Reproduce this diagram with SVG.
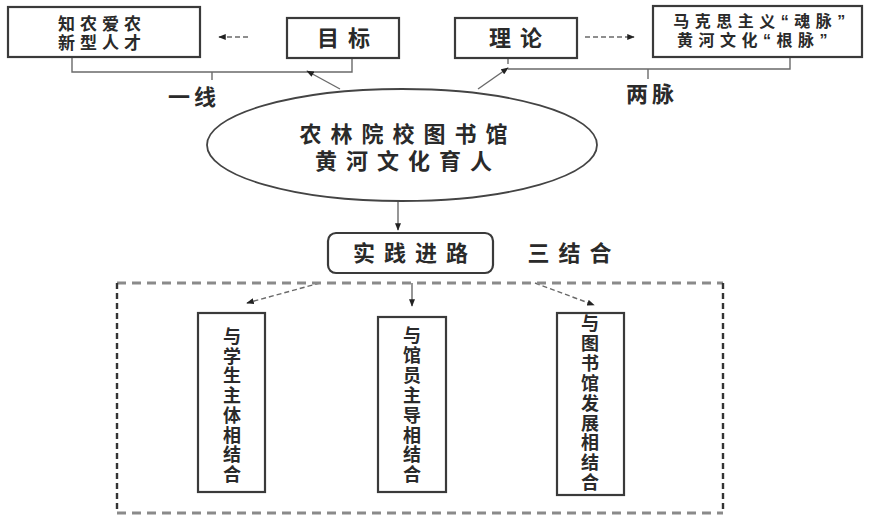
<svg xmlns="http://www.w3.org/2000/svg" width="870" height="516" viewBox="0 0 870 516">
<style>
.bx{fill:#fff;stroke:#3a3a3a;stroke-width:2.2}
.el{fill:#fff;stroke:#444;stroke-width:1.8}
.t{font-family:"Liberation Sans","Noto Sans CJK SC",sans-serif;font-weight:bold;fill:#2a2a2a;text-anchor:middle;dominant-baseline:central}
.big{font-size:22px;letter-spacing:9px}
.sm{font-size:17px;letter-spacing:5px}
.sm2{font-size:16px;letter-spacing:5.5px}
.v{font-size:18px}
.ln{fill:none;stroke:#6a6a6a;stroke-width:1.4}
.dl{fill:none;stroke:#6a6a6a;stroke-width:1.4;stroke-dasharray:5 3}
</style>
<defs>
<marker id="ah" viewBox="0 0 10 8" refX="9" refY="4" markerWidth="8" markerHeight="6" markerUnits="userSpaceOnUse" orient="auto">
<path d="M0,0 L10,4 L0,8 Z" fill="#222"/>
</marker>
</defs>

<g id="connectors">
<path class="ln" d="M72,57 V72 H352 V58"/>
<path class="ln" d="M212,72 V80"/>
<path class="ln" d="M340,89 L307,71" marker-end="url(#ah)"/>
<path class="dl" d="M248,37 H219" marker-end="url(#ah)"/>
<path class="ln" d="M508,69 H790 V57"/>
<path class="ln" d="M648,69 V79"/>
<path class="ln" d="M508,58 V64"/>
<path class="ln" d="M478,89 L508,68" marker-end="url(#ah)"/>
<path class="dl" d="M585,37 H634" marker-end="url(#ah)"/>
<path class="ln" d="M398,201 V230" marker-end="url(#ah)"/>
<path class="dl" d="M320,283 L247,303" marker-end="url(#ah)"/>
<path class="ln" d="M412,283 V306" marker-end="url(#ah)"/>
<path class="dl" d="M535,283 L594,305" marker-end="url(#ah)"/>
</g>

<g id="node-talent">
<rect class="bx" x="8" y="7" width="192" height="50"/>
<text class="t sm" x="102" y="24">知农爱农</text>
<text class="t sm" x="102" y="43">新型人才</text>
</g>

<g id="node-goal">
<rect class="bx" x="287" y="18" width="112" height="40"/>
<text class="t big" x="348" y="38">目标</text>
</g>

<g id="node-theory">
<rect class="bx" x="455" y="18" width="122" height="40"/>
<text class="t big" x="520" y="38">理论</text>
</g>

<g id="node-veins">
<rect class="bx" x="653" y="6" width="209" height="51"/>
<text class="t sm2" x="762" y="21">马克思主义“魂脉”</text>
<text class="t sm2" x="755" y="40">黄河文化“根脉”</text>
</g>

<g id="label-yixian">
<text class="t big" x="194" y="97" style="letter-spacing:4px">一线</text>
</g>

<g id="label-liangmai">
<text class="t big" x="652" y="94" style="letter-spacing:4px">两脉</text>
</g>

<g id="node-center">
<ellipse class="el" cx="402" cy="145" rx="195" ry="56"/>
<text class="t big" x="408" y="134">农林院校图书馆</text>
<text class="t big" x="408" y="161">黄河文化育人</text>
</g>

<g id="node-path">
<rect class="bx" x="328" y="233" width="165" height="40" rx="8"/>
<text class="t big" x="415" y="253">实践进路</text>
</g>

<g id="label-sanjiehe">
<text class="t big" x="574" y="253">三结合</text>
</g>

<g id="group-box">
<path d="M117,283 H723 M117,513 H723" fill="none" stroke="#8a8a8a" stroke-width="3" stroke-dasharray="9 6"/>
<path d="M117,283 V513 M723,283 V513" fill="none" stroke="#333" stroke-width="2.4" stroke-dasharray="6 4"/>
</g>

<g id="node-students">
<rect class="bx" x="198" y="313" width="67" height="179"/>
<text class="t v" x="232" y="337"><tspan x="232" dy="0">与</tspan><tspan x="232" dy="19.7">学</tspan><tspan x="232" dy="19.7">生</tspan><tspan x="232" dy="19.7">主</tspan><tspan x="232" dy="19.7">体</tspan><tspan x="232" dy="19.7">相</tspan><tspan x="232" dy="19.7">结</tspan><tspan x="232" dy="19.7">合</tspan></text>
</g>

<g id="node-librarians">
<rect class="bx" x="378" y="317" width="68" height="175"/>
<text class="t v" x="412" y="336"><tspan x="412" dy="0">与</tspan><tspan x="412" dy="19.9">馆</tspan><tspan x="412" dy="19.9">员</tspan><tspan x="412" dy="19.9">主</tspan><tspan x="412" dy="19.9">导</tspan><tspan x="412" dy="19.9">相</tspan><tspan x="412" dy="19.9">结</tspan><tspan x="412" dy="19.9">合</tspan></text>
</g>

<g id="node-library">
<rect class="bx" x="557" y="313" width="67" height="182"/>
<text class="t v" x="590" y="324"><tspan x="590" dy="0">与</tspan><tspan x="590" dy="19.9">图</tspan><tspan x="590" dy="19.9">书</tspan><tspan x="590" dy="19.9">馆</tspan><tspan x="590" dy="19.9">发</tspan><tspan x="590" dy="19.9">展</tspan><tspan x="590" dy="19.9">相</tspan><tspan x="590" dy="19.9">结</tspan><tspan x="590" dy="19.9">合</tspan></text>
</g>
</svg>
